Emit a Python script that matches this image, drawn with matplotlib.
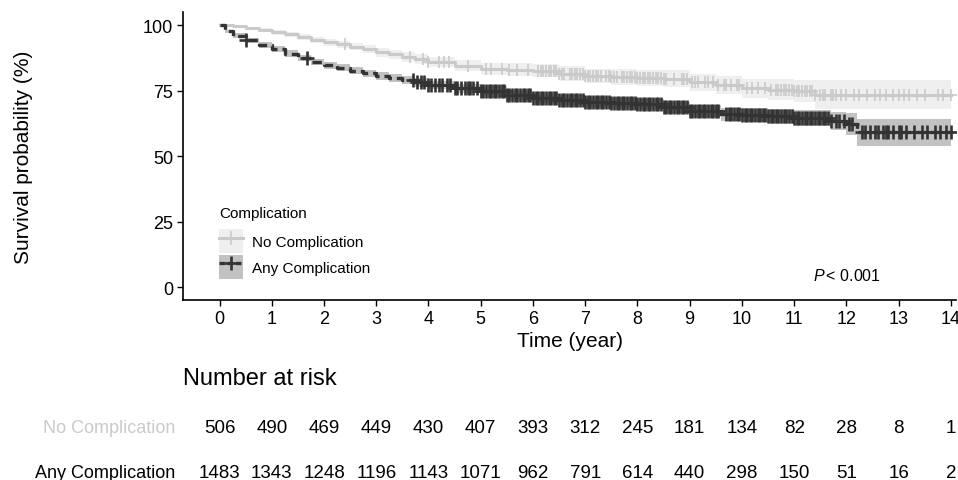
import matplotlib
matplotlib.use("Agg")
import matplotlib.pyplot as plt
import numpy as np
from matplotlib.lines import Line2D
from matplotlib.patches import Patch

plt.rcParams['font.family'] = ['Liberation Sans', 'DejaVu Sans']
plt.rcParams['mathtext.fontset'] = 'custom'
plt.rcParams['mathtext.rm'] = 'Liberation Sans'
plt.rcParams['mathtext.it'] = 'Liberation Sans:italic'

# Kaplan-Meier estimates (time in years, survival in %)
t_no = [0, 0.25, 0.5, 0.75, 1, 1.25, 1.5, 1.75, 2, 2.25, 2.5, 2.75, 3, 3.25, 3.5, 3.75,
        4, 4.5, 5, 5.5, 6, 6.5, 7, 7.5, 8, 8.5, 9, 9.5, 10, 10.5, 11, 11.4, 14]
s_no = [100, 99.5, 98.8, 98.0, 97.3, 96.5, 95.5, 94.4, 93.5, 92.6, 91.8, 90.8, 89.7, 88.8,
        87.8, 86.9, 85.9, 84.5, 83.3, 83.0, 82.6, 81.5, 80.6, 80.2, 79.8, 79.6, 78.2,
        77.0, 75.8, 75.3, 74.9, 73.4, 73.4]
lo_no = [100, 99.0, 98.2, 97.2, 96.4, 95.5, 94.4, 93.2, 92.2, 91.2, 90.3, 89.2, 88.0, 87.0,
         86.0, 85.0, 83.9, 82.3, 81.0, 80.6, 80.0, 78.8, 77.8, 77.3, 76.8, 76.5, 74.9,
         73.5, 72.0, 71.3, 70.6, 67.9, 67.9]
hi_no = [100, 100, 99.4, 98.8, 98.2, 97.5, 96.6, 95.6, 94.8, 94.0, 93.3, 92.4, 91.4, 90.6,
         89.6, 88.8, 87.9, 86.7, 85.6, 85.4, 85.2, 84.2, 83.4, 83.1, 82.8, 82.7, 81.5,
         80.5, 79.6, 79.3, 79.2, 78.9, 78.9]

t_any = [0, 0.1, 0.25, 0.5, 0.75, 1, 1.25, 1.5, 1.75, 2, 2.25, 2.5, 2.75, 3, 3.25, 3.5, 3.75,
         4, 4.5, 5, 5.5, 6, 6.5, 7, 7.5, 8, 8.5, 9, 9.6, 10, 10.5, 11, 11.7, 12, 12.2, 14]
s_any = [100, 97.6, 96.0, 94.2, 92.4, 90.8, 89.1, 87.5, 86.0, 84.7, 83.7, 82.6, 81.6, 80.7,
         79.9, 79.0, 78.1, 77.1, 75.8, 75.0, 73.2, 72.0, 71.4, 70.8, 70.3, 69.8, 68.6,
         67.3, 66.0, 65.6, 65.1, 64.4, 63.5, 62.2, 59.0, 59.0]
lo_any = [100, 96.9, 95.2, 93.3, 91.4, 89.7, 87.9, 86.3, 84.8, 83.4, 82.4, 81.2, 80.2, 79.2,
          78.4, 77.5, 76.5, 75.5, 74.1, 73.3, 71.5, 70.2, 69.5, 68.9, 68.3, 67.8, 66.5,
          65.0, 63.5, 63.0, 62.3, 61.4, 60.0, 58.0, 53.7, 53.7]
hi_any = [100, 98.3, 96.8, 95.1, 93.4, 91.9, 90.3, 88.7, 87.2, 86.0, 85.0, 84.0, 83.0, 82.2,
          81.4, 80.5, 79.7, 78.7, 77.5, 76.7, 74.9, 73.8, 73.3, 72.7, 72.3, 71.8, 70.7,
          69.6, 68.5, 68.2, 67.9, 67.4, 67.0, 66.4, 64.3, 64.3]

# censoring times (years)
cens_no = [2.4, 3.65, 3.9, 4.0, 4.2, 4.3, 4.4, 4.75, 5.1, 5.2, 5.4, 5.55, 5.7, 5.9,
           6.1, 6.15, 6.2, 6.25, 6.3, 6.35, 6.4, 6.45, 6.5, 6.55, 6.6,
           6.7, 6.75, 6.8, 6.85, 6.9, 6.95, 7.0, 7.05, 7.1, 7.15, 7.2, 7.25, 7.3, 7.4,
           7.45, 7.5, 7.55, 7.6, 7.7, 7.75, 7.8, 7.85, 7.9, 7.95, 8.0, 8.05, 8.1, 8.15,
           8.2, 8.25, 8.3, 8.35, 8.4, 8.45, 8.5, 8.55,
           8.7, 8.85, 8.9, 8.95, 9.05, 9.1, 9.15, 9.3, 9.35, 9.45, 9.55, 9.65, 9.7, 9.8,
           9.9, 9.95, 10.1, 10.2, 10.3, 10.45, 10.55,
           10.65, 10.7, 10.75, 10.8, 10.85, 10.9, 10.95, 11.0, 11.05, 11.1, 11.15, 11.2,
           11.25, 11.3, 11.35, 11.4,
           11.5, 11.55, 11.6, 11.7, 11.75, 11.8, 11.9, 12.0, 12.15, 12.25, 12.4, 12.55,
           12.65, 12.75, 12.9, 13.0, 13.1, 13.2, 13.35, 13.5, 13.75, 13.85, 14.0]
cens_any = [0.5, 1.67, 3.7, 3.78, 3.85, 3.92, 4.0, 4.05, 4.12, 4.2, 4.25, 4.35, 4.42, 4.5,
            4.55, 4.62, 4.7, 4.75, 4.8, 4.85, 4.92,
            5.0, 5.05, 5.1, 5.15, 5.2, 5.25, 5.3, 5.35, 5.4, 5.45, 5.5, 5.55, 5.6, 5.65,
            5.7, 5.75, 5.8, 5.85, 5.9, 5.95, 6.0, 6.05, 6.1, 6.15, 6.2, 6.25, 6.3, 6.35,
            6.4, 6.45, 6.5, 6.55, 6.6, 6.65, 6.7, 6.75, 6.8, 6.85, 6.9, 6.95, 7.0, 7.05,
            7.1, 7.15, 7.2, 7.25, 7.3, 7.35, 7.4, 7.45, 7.5, 7.55, 7.6, 7.65, 7.7, 7.75,
            7.8, 7.85, 7.9, 7.95, 8.0, 8.05, 8.1, 8.15, 8.2, 8.25, 8.3, 8.35, 8.4, 8.45,
            8.5, 8.55, 8.6, 8.65, 8.7, 8.75, 8.8, 8.85, 8.9, 8.95, 9.0, 9.05, 9.1, 9.15,
            9.2, 9.25, 9.3, 9.35, 9.4, 9.45, 9.5, 9.55,
            9.7, 9.75, 9.8, 9.85, 9.9, 9.95, 10.0, 10.05, 10.1, 10.15, 10.2, 10.25, 10.3,
            10.35, 10.4, 10.45, 10.5, 10.55, 10.6, 10.65, 10.7, 10.75, 10.8, 10.85, 10.9,
            10.95, 11.0, 11.05, 11.1, 11.15, 11.2, 11.25, 11.3, 11.35, 11.4, 11.45, 11.5,
            11.55, 11.6, 11.65, 11.7,
            11.8, 11.85, 11.95, 12.05, 12.1, 12.3, 12.35, 12.45, 12.55, 12.6, 12.7, 12.75,
            12.8, 12.9, 13.0, 13.05, 13.15, 13.3, 13.45, 13.55, 13.7, 13.8, 13.9, 14.0]

# number at risk
risk_times = list(range(15))
risk_no = [506, 490, 469, 449, 430, 407, 393, 312, 245, 181, 134, 82, 28, 8, 1]
risk_any = [1483, 1343, 1248, 1196, 1143, 1071, 962, 791, 614, 440, 298, 150, 51, 16, 2]
groups = ['No Complication', 'Any Complication']

col_no, band_no = '#cacaca', '#efefef'
col_any, band_any = '#333333', '#c2c2c2'


def step_value(t, s, x):
    idx = np.searchsorted(t, x, side='right') - 1
    return np.asarray(s)[idx]


fig = plt.figure(figsize=(9.58, 4.81), dpi=100)
ax = fig.add_axes([0.191, 0.374, 0.807, 0.599])

ax.fill_between(t_no, lo_no, hi_no, step='post', color=band_no, lw=0)
ax.fill_between(t_any, lo_any, hi_any, step='post', color=band_any, lw=0)

ax.step(t_no, s_no, where='post', color=col_no, lw=2.2)
ax.step(t_any, s_any, where='post', color=col_any, lw=2.4, linestyle=(0, (2.8, 1.5)))

ax.plot(cens_no, step_value(t_no, s_no, cens_no), '+', color=col_no, ms=8, mew=1.2)
ax.plot(cens_any, step_value(t_any, s_any, cens_any), '+', color=col_any, ms=9.5, mew=1.9)

ax.set_xlim(-0.7, 14.1)
ax.set_ylim(-5, 105)
ax.set_xticks(risk_times)
ax.set_yticks([0, 25, 50, 75, 100])
ax.tick_params(labelsize=13, length=4, width=1, colors='black', pad=3)
ax.spines['top'].set_visible(False)
ax.spines['right'].set_visible(False)
ax.spines['left'].set_linewidth(1.2)
ax.spines['bottom'].set_linewidth(1.2)
ax.set_xlabel('Time (year)', fontsize=15, labelpad=3)
ax.set_ylabel('Survival probability (%)', fontsize=15)
ax.yaxis.set_label_coords(-0.194, 0.5)

ax.text(11.36, 2.7, '$P\\,$< 0.001', fontsize=11.5, va='baseline')

# legend (title drawn as its own text to match the spacing)
ax.text(0.0466, 0.288, 'Complication', fontsize=11, transform=ax.transAxes, va='baseline')
handles = [
    (Patch(facecolor=band_no, edgecolor='none'),
     Line2D([], [], color=col_no, lw=2.2, marker='+', ms=10, mew=1.2)),
    (Patch(facecolor=band_any, edgecolor='none'),
     Line2D([], [], color=col_any, lw=2.4, linestyle=(0, (1.6, 0.9)), marker='+', ms=10, mew=1.9)),
]
leg = ax.legend(handles, groups, loc='upper left',
                bbox_to_anchor=(0.0466, 0.2465), frameon=False, fontsize=11,
                handlelength=1.57, handleheight=2.04,
                labelspacing=0.13, handletextpad=0.6,
                borderaxespad=0, borderpad=0)

# risk table
fig.text(183 / 958, 1 - 385 / 481, 'Number at risk', fontsize=17, va='baseline', ha='left')
for row, (name, vals, col) in enumerate([(groups[0], risk_no, col_no),
                                         (groups[1], risk_any, 'black')]):
    ybase = 1 - (433 + 45 * row) / 481
    fig.text(175 / 958, ybase, name, fontsize=13, color=col, ha='right', va='baseline')
    for t, v in zip(risk_times, vals):
        xf = ax.transData.transform((t, 0))[0] / fig.bbox.width
        fig.text(xf, ybase, str(v), fontsize=13.5, ha='center', va='baseline')

fig.savefig('out.png', dpi=100)
